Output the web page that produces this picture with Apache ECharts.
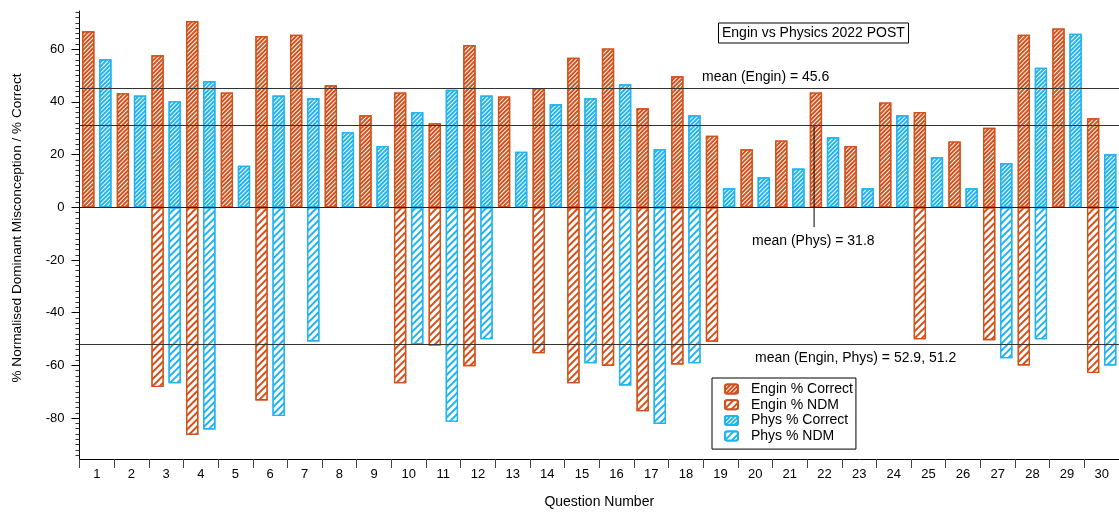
<!DOCTYPE html>
<html>
<head>
<meta charset="utf-8">
<script src="https://cdn.jsdelivr.net/npm/echarts@6/dist/echarts.min.js"></script>
<style>
html,body{margin:0;padding:0;background:#fff;}
#c{width:1119px;height:514px;}
</style>
</head>
<body>
<div id="c"></div>
<script>
const categories = ['1','2','3','4','5','6','7','8','9','10','11','12','13','14','15','16','17','18','19','20','21','22','23','24','25','26','27','28','29','30'];
const enginCorrect = [66.8, 43.3, 57.7, 70.7, 43.6, 65.0, 65.5, 46.3, 34.9, 43.6, 31.9, 61.6, 42.1, 45.2, 56.8, 60.3, 37.6, 49.7, 27.2, 22.0, 25.4, 43.6, 23.3, 39.8, 36.2, 25.0, 30.2, 65.5, 67.9, 33.8];
const enginNDM = [null, null, -68.2, -86.4, null, -73.3, null, null, null, -66.8, -52.4, -60.3, null, -55.4, -66.8, -60.1, -77.4, -59.6, -51.0, null, null, null, null, null, -50.1, null, -50.4, -60.0, null, -62.9];
const physCorrect = [56.2, 42.4, 40.3, 47.8, 15.8, 42.4, 41.4, 28.5, 23.3, 36.1, 44.6, 42.4, 21.1, 39.1, 41.4, 46.7, 22.0, 34.9, 7.2, 11.4, 14.7, 26.6, 7.2, 34.9, 19.0, 7.2, 16.8, 53.0, 65.9, 20.1];
const physNDM = [null, null, -66.8, -84.3, null, -79.2, -50.9, null, null, -52.0, -81.4, -50.1, null, null, -59.2, -67.6, -82.2, -59.2, null, null, null, null, null, null, null, null, -57.3, -50.1, null, -60.0];
const seriesNames = ['Engin % Correct', 'Engin % NDM', 'Phys % Correct', 'Phys % NDM'];
const meanLines = [45.0, 31.2, -51.9];
const meanLabels = ['mean (Engin) = 45.6', 'mean (Phys) = 31.8', 'mean (Engin, Phys) = 52.9, 51.2'];
const pointer = [[21.7, 31.2], [21.7, -7.5]];
const yMajorTicks = [-80, -60, -40, -20, 0, 20, 40, 60];
const yMinorTicks = [];
for (let v = -94; v <= 74; v += 2) { if (v % 20 !== 0) yMinorTicks.push(v); }
const titleText = 'Engin vs Physics 2022 POST';

const ORANGE = '#d2501a';
const BLUE = '#1fb3f0';
const FONT = '"Liberation Sans", Arial, sans-serif';

function hatch(color, dense) {
  return {
    symbol: 'rect',
    symbolSize: 1,
    dashArrayX: [1, 0],
    dashArrayY: dense ? [2, 1] : [2, 3],
    rotation: -Math.PI / 4,
    color: color,
    backgroundColor: '#ffffff'
  };
}
function barSeries(name, data, color, dense, stack) {
  return {
    name: name,
    type: 'bar',
    stack: stack,
    data: data,
    barWidth: 12.3,
    barGap: '39%',
    itemStyle: { color: '#ffffff', borderColor: color, borderWidth: 1.4, decal: hatch(color, dense) },
    emphasis: { disabled: true }
  };
}

const chart = echarts.init(document.getElementById('c'), null, { renderer: 'canvas' });
const option = {
  animation: false,
  backgroundColor: '#ffffff',
  textStyle: { fontFamily: FONT },
  title: {
    text: titleText,
    left: 718, top: 22.5,
    padding: [3, 4, 3, 4],
    borderColor: '#000', borderWidth: 1,
    textStyle: { fontFamily: FONT, fontSize: 14, fontWeight: 'normal', color: '#000', lineHeight: 14.5 }
  },
  legend: {
    data: seriesNames,
    orient: 'vertical',
    left: 712, top: 378,
    padding: [4, 3, 6, 12],
    borderColor: '#000', borderWidth: 1,
    itemWidth: 13, itemHeight: 9, itemGap: 1.7,
    textStyle: { fontFamily: FONT, fontSize: 14, color: '#000', lineHeight: 14, padding: [0, 0, 0, 8] }
  },
  grid: { left: 79.5, top: 11, width: 1047, height: 448 },
  xAxis: [{
    type: 'category',
    data: categories,
    name: 'Question Number',
    nameLocation: 'middle',
    nameGap: 36,
    nameTextStyle: { fontFamily: FONT, fontSize: 14, color: '#000' },
    axisLine: { onZero: false, lineStyle: { color: '#000', width: 1 } },
    axisTick: { show: true, length: 9, inside: false, lineStyle: { color: '#444' } },
    axisLabel: { fontFamily: FONT, fontSize: 13, color: '#000', margin: 9, interval: 0 },
    splitLine: { show: false }
  }, {
    type: 'value', min: 0.5, max: 30.5, show: false
  }],
  yAxis: [{
    type: 'value',
    min: -95.5, max: 74.5,
    name: '% Normalised Dominant Misconception / % Correct',
    nameLocation: 'middle',
    nameGap: 55,
    nameTextStyle: { fontFamily: FONT, fontSize: 13.6, color: '#000', padding: [0, 0, 0, 14] },
    axisLine: { show: true, lineStyle: { color: '#000', width: 1 } },
    axisTick: { show: true, length: 8, customValues: yMajorTicks, lineStyle: { color: '#000' } },
    axisLabel: { fontFamily: FONT, fontSize: 13, color: '#000', margin: 15, customValues: yMajorTicks },
    splitLine: { show: false }
  }, {
    type: 'value',
    min: -95.5, max: 74.5,
    position: 'left',
    axisLine: { show: false },
    axisTick: { show: true, length: 4, customValues: yMinorTicks, lineStyle: { color: '#333' } },
    axisLabel: { show: false },
    splitLine: { show: false }
  }],
  series: [
    Object.assign(barSeries(seriesNames[0], enginCorrect, ORANGE, true, 'E'), {
      markLine: {
        silent: true, symbol: 'none', label: { show: false },
        lineStyle: { color: '#333', width: 1.2, type: 'solid' },
        data: meanLines.map(v => ({ yAxis: v })).concat([{ yAxis: 0, lineStyle: { color: '#222', width: 1 } }])
      }
    }),
    barSeries(seriesNames[1], enginNDM, ORANGE, false, 'E'),
    barSeries(seriesNames[2], physCorrect, BLUE, true, 'P'),
    barSeries(seriesNames[3], physNDM, BLUE, false, 'P'),
    {
      name: 'pointer', type: 'line', xAxisIndex: 1, yAxisIndex: 0,
      data: pointer, symbol: 'none', silent: true,
      lineStyle: { color: '#000', width: 1 }
    }
  ],
  graphic: [
    { type: 'text', left: 702, top: 70.5, style: { text: meanLabels[0], font: '14px ' + FONT, fill: '#000' } },
    { type: 'text', left: 752, top: 234.5, style: { text: meanLabels[1], font: '14px ' + FONT, fill: '#000' } },
    { type: 'text', left: 755, top: 351.5, style: { text: meanLabels[2], font: '14px ' + FONT, fill: '#000' } }
  ]
};
chart.setOption(option);
</script>
</body>
</html>
